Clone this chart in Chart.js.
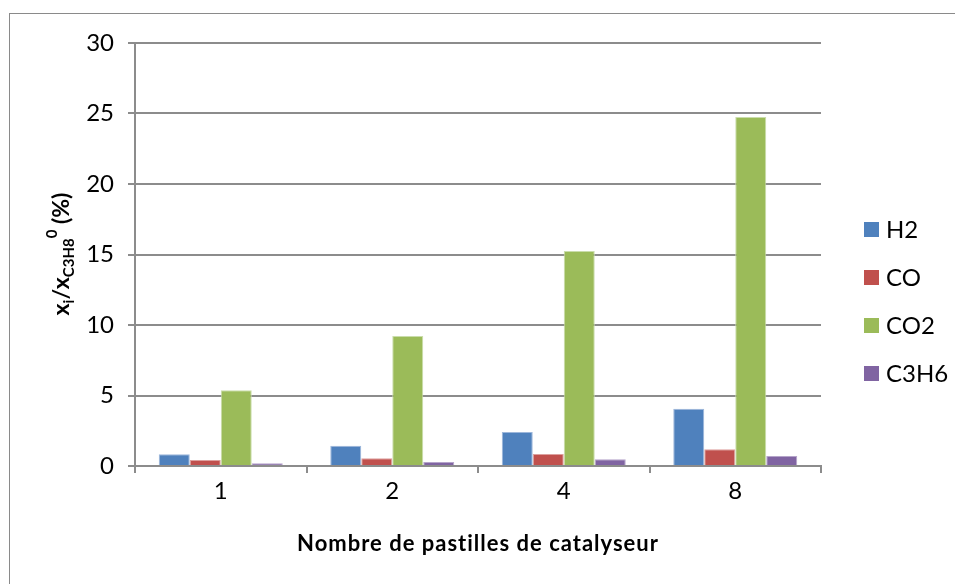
<!DOCTYPE html>
<html>
<head>
<meta charset="utf-8">
<script src="https://cdn.jsdelivr.net/npm/chart.js@4/dist/chart.umd.min.js"></script>
<style>
  html, body { margin: 0; padding: 0; background: #fff; }
  #wrap { position: relative; width: 955px; height: 584px; }
  #frame { position: absolute; left: 9px; top: 13px; width: 960px; height: 600px; border: 1px solid #8a8a8a; box-sizing: border-box; }
  canvas { position: absolute; left: 0; top: 0; }
</style>
</head>
<body>
<div id="wrap">
  <div id="frame"></div>
  <canvas id="myChart" width="955" height="584"></canvas>
</div>
<script>
/* Produits rapportés au propane d'entrée, selon le nombre de pastilles. */
const categories = ["1", "2", "4", "8"];
const series_names = ["H2", "CO", "CO2", "C3H6"];
const h2 = [0.83, 1.44, 2.41, 4.06];
const co = [0.43, 0.55, 0.85, 1.18];
const co2 = [5.37, 9.22, 15.25, 24.75];
const c3h6 = [0.19, 0.28, 0.47, 0.71];
const colors = ["#4F81BD", "#C0504D", "#9BBB59", "#8064A2"];
const edges = ["#9DB7DB", "#DDA09E", "#CADDAB", "#B5A4CA"];

const FONT = "Lato, 'Open Sans', sans-serif";
const GRID = "#8c8c8c";

/* Axis titles and the legend are drawn by hand (sub/superscripts). */
const extras = {
  id: "extras",
  afterDraw(chart) {
    const ctx = chart.ctx;
    const area = chart.chartArea;
    ctx.save();
    ctx.fillStyle = "#000";

    // x title
    ctx.font = "bold 22px " + FONT;
    ctx.letterSpacing = "1px";
    ctx.textAlign = "center";
    ctx.textBaseline = "middle";
    ctx.fillText("Nombre de pastilles de catalyseur", (area.left + area.right) / 2, 544);
    ctx.letterSpacing = "0px";

    // y title: x_i / x_C3H8 ^0 (%)
    ctx.translate(69, 254);
    ctx.rotate(-Math.PI / 2);
    ctx.textBaseline = "alphabetic";
    const parts = [
      { t: "x", size: 23, dy: 0 },
      { t: "i", size: 15, dy: 5 },
      { t: "/x", size: 23, dy: 0 },
      { t: "C3H8", size: 15, dy: 5 },
      { t: "0", size: 15, dy: -12 },
      { t: " (%)", size: 23, dy: 0 },
    ];
    let total = 0;
    parts.forEach((p) => {
      ctx.font = "bold " + p.size + "px " + FONT;
      p.w = ctx.measureText(p.t).width;
      total += p.w;
    });
    let x = -total / 2;
    ctx.textAlign = "left";
    parts.forEach((p) => {
      ctx.font = "bold " + p.size + "px " + FONT;
      ctx.fillText(p.t, x, p.dy);
      x += p.w;
    });
    ctx.setTransform(1, 0, 0, 1, 0, 0);

    // legend
    ctx.font = "24px " + FONT;
    ctx.textAlign = "left";
    ctx.textBaseline = "middle";
    chart.data.datasets.forEach((ds, i) => {
      const y = 229.5 + i * 48;
      ctx.fillStyle = ds.backgroundColor;
      ctx.fillRect(864, y - 7.5, 15, 15);
      ctx.fillStyle = "#000";
      ctx.fillText(ds.label, 886, y + 1);
    });
    ctx.restore();
  },
};

const ctx = document.getElementById("myChart");
const chart = new Chart(ctx, {
  type: "bar",
  data: {
    labels: categories,
    datasets: [h2, co, co2, c3h6].map((vals, i) => ({
      label: series_names[i],
      data: vals,
      backgroundColor: colors[i],
      borderColor: edges[i],
      borderWidth: 1,
      borderSkipped: "bottom",
      barPercentage: 1,
      categoryPercentage: 0.723,
    })),
  },
  options: {
    responsive: false,
    animation: false,
    layout: { padding: { left: 0, top: 43, right: 134, bottom: 0 } },
    plugins: { legend: { display: false }, tooltip: { enabled: false } },
    scales: {
      x: {
        grid: {
          display: true,
          drawOnChartArea: false,
          offset: true,
          color: GRID,
          lineWidth: 2,
          tickLength: 7,
        },
        border: { color: GRID, width: 2 },
        ticks: { color: "#000", font: { family: FONT, size: 24 }, padding: 4 },
        afterFit(scale) { scale.height = 584 - 466; },
      },
      y: {
        min: 0,
        max: 30,
        ticks: { stepSize: 5, color: "#000", font: { family: FONT, size: 24 }, padding: 14 },
        grid: { color: GRID, lineWidth: 2, tickLength: 7 },
        border: { color: GRID, width: 2 },
        afterFit(scale) { scale.width = 135; },
      },
    },
  },
  plugins: [extras],
});
</script>
</body>
</html>
